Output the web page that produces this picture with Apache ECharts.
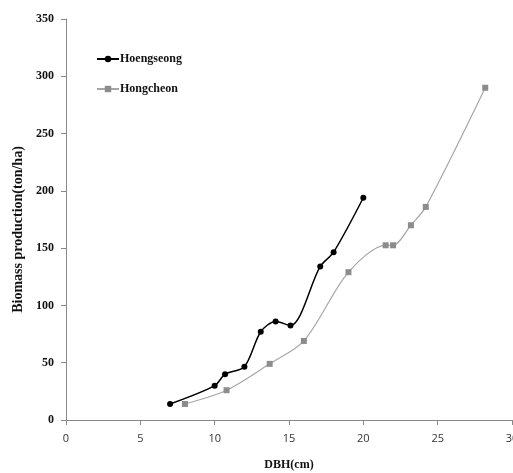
<!DOCTYPE html>
<html>
<head>
<meta charset="utf-8">
<script src="https://cdn.jsdelivr.net/npm/echarts@6/dist/echarts.min.js"></script>
<style>
  html, body { margin: 0; padding: 0; background: #fff; }
  #main { width: 513px; height: 473px; }
</style>
</head>
<body>
<div id="main"></div>
<script>
// DBH (cm) vs biomass (ton/ha)
var hoengseong = [[7, 14], [10, 30], [10.7, 40], [12, 46.5], [13.1, 77], [14.1, 86], [15.1, 82.5], [17.1, 134], [18, 146.5], [20, 194]];
var hongcheon = [[8, 14], [10.8, 26], [13.7, 49], [16, 69], [19, 129], [21.5, 152.5], [22, 152.5], [23.2, 170], [24.2, 186], [28.2, 290]];
var seriesNames = ["Hoengseong", "Hongcheon"];

var serif = "'Liberation Serif', 'Times New Roman', serif";

var myChart = echarts.init(document.getElementById("main"));
myChart.setOption({
  animation: false,
  grid: { left: 66, right: 1, top: 19, bottom: 53, outerBoundsMode: "none", containLabel: false },
  legend: {
    orient: "vertical",
    left: 91,
    top: 48,
    itemGap: 18,
    itemWidth: 22,
    itemHeight: 8,
    data: seriesNames,
    textStyle: { fontFamily: serif, fontWeight: "bold", fontSize: 12, color: "#111", padding: [0, 0, 0, -4] }
  },
  xAxis: {
    type: "value",
    min: 0, max: 30, interval: 5,
    name: "DBH(cm)",
    nameLocation: "middle",
    nameGap: 39,
    nameTextStyle: { fontFamily: serif, fontWeight: "bold", fontSize: 12, color: "#111" },
    axisLine: { lineStyle: { color: "#888" } },
    axisTick: { inside: false, length: 5, lineStyle: { color: "#888" } },
    axisLabel: { color: "#333", fontSize: 11, fontFamily: "'Open Sans', sans-serif", margin: 13 },
    splitLine: { show: false }
  },
  yAxis: {
    type: "value",
    min: 0, max: 350, interval: 50,
    name: "Biomass production(ton/ha)",
    nameLocation: "middle",
    nameGap: 41,
    nameTextStyle: { fontFamily: serif, fontWeight: "bold", fontSize: 14, color: "#111", padding: [0, 20, 0, 0] },
    axisLine: { show: true, lineStyle: { color: "#888" } },
    axisTick: { show: true, inside: false, length: 5, lineStyle: { color: "#888" } },
    axisLabel: { color: "#111", fontSize: 12, fontWeight: "bold", fontFamily: serif, margin: 12 },
    splitLine: { show: false }
  },
  series: [
    {
      name: seriesNames[0],
      type: "line",
      data: hoengseong,
      smooth: 0.3,
      symbol: "circle",
      symbolSize: 6,
      itemStyle: { color: "#000" },
      lineStyle: { color: "#000", width: 1.5 }
    },
    {
      name: seriesNames[1],
      type: "line",
      data: hongcheon,
      smooth: 0.3,
      symbol: "rect",
      symbolSize: 6,
      itemStyle: { color: "#8c8c8c" },
      lineStyle: { color: "#a6a6a6", width: 1.2 }
    }
  ]
});
</script>
</body>
</html>
